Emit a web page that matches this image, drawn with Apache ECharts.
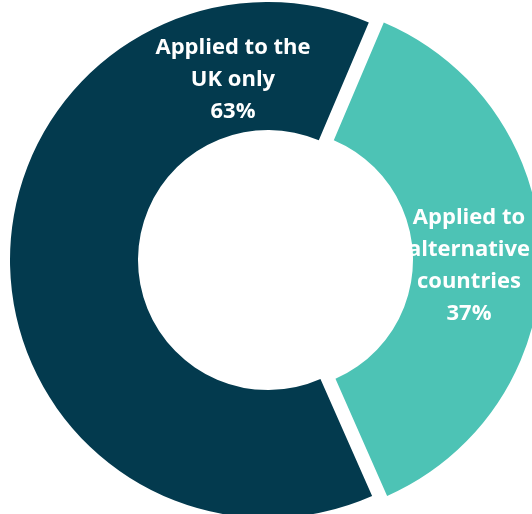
<!DOCTYPE html>
<html><head><meta charset="utf-8">
<script src="https://cdn.jsdelivr.net/npm/echarts@6/dist/echarts.min.js"></script>
<style>html,body{margin:0;padding:0;background:#fff;}#c{width:532px;height:514px;}</style>
</head><body><div id="c"></div>
<script>
const categories = ["Applied to\nalternative\ncountries", "Applied to the\nUK only"];
const values = [37, 63];
const colors = ["#4DC3B5", "#033A4E"];
const labelPos = [[465, 273], [233, 80]];

const chart = echarts.init(document.getElementById('c'));
chart.setOption({
  animation: false,
  series: [{
    type: 'pie',
    center: [268, 260],
    radius: [130, 258],
    startAngle: 67,
    clockwise: true,
    selectedMode: 'single',
    selectedOffset: 15,
    avoidLabelOverlap: false,
    emphasis: { disabled: true },
    label: {
      show: true,
      position: 'inside',
      color: '#fff',
      fontFamily: 'Open Sans',
      fontWeight: 'bold',
      fontSize: 22,
      lineHeight: 32,
      align: 'center',
      verticalAlign: 'middle',
      formatter: p => p.name + '\n' + p.value + '%'
    },
    labelLayout: p => ({ x: labelPos[p.dataIndex][0], y: labelPos[p.dataIndex][1], align: 'center', verticalAlign: 'middle' }),
    labelLine: { show: false },
    data: categories.map((n, i) => ({
      name: n, value: values[i], selected: i === 0,
      itemStyle: { color: colors[i] },
      select: { label: { offset: i === 0 ? [-11, 7] : [0, 0] } }
    }))
  }]
});
</script></body></html>
